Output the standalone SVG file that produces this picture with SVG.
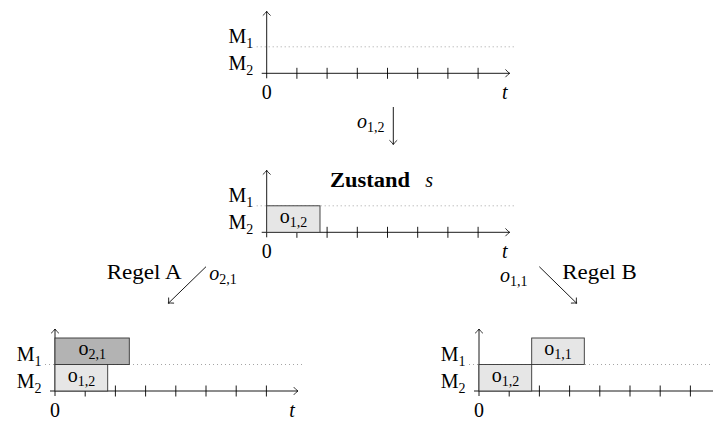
<svg xmlns="http://www.w3.org/2000/svg" width="713" height="421" viewBox="0 0 713 421">
<style>
text{font-family:"Liberation Serif","Times New Roman",serif;fill:#000}
.lbl{font-size:20px}
.sub{font-size:14px}
.bx{font-size:20px}
.bsub{font-size:14px}
.it{font-style:italic}
.bold{font-weight:bold}
.ax{stroke:#000;stroke-width:0.9;fill:none}
.tick{stroke:#000;stroke-width:0.9;fill:none}
.dot{stroke:#9a9a9a;stroke-width:0.9;stroke-dasharray:1 3}
.box{stroke:#333;stroke-width:0.9}
.light{fill:#e6e6e6}
.dark{fill:#b3b3b3}
.conn{stroke:#000;stroke-width:0.9;fill:none}
</style>
<defs>
<marker id="arr" markerUnits="userSpaceOnUse" viewBox="-6 -5 7 10" refX="0" refY="0" markerWidth="7" markerHeight="10" orient="auto" overflow="visible">
<path d="M-4,-3.6 Q-1.6,-0.8 0,0 Q-1.6,0.8 -4,3.6" fill="none" stroke="#000" stroke-width="0.8" stroke-linecap="round"/>
</marker>
<g id="axes">
<line class="dot" x1="-10" y1="-26.5" x2="248" y2="-26.5"/>
<path class="tick" d="M30.2,-5.5v11M60.4,-5.5v11M90.6,-5.5v11M120.8,-5.5v11M151,-5.5v11M181.2,-5.5v11M211.4,-5.5v11"/>
<line class="ax" x1="-5" y1="0" x2="243" y2="0" marker-end="url(#arr)"/>
<line class="ax" x1="0" y1="5" x2="0" y2="-62" marker-end="url(#arr)"/>
<text class="lbl" x="-13.5" y="-30" text-anchor="end">M<tspan class="sub" dy="4.5">1</tspan></text>
<text class="lbl" x="-13.5" y="-3" text-anchor="end">M<tspan class="sub" dy="4.5">2</tspan></text>
<text class="lbl" x="0" y="26" text-anchor="middle">0</text>
</g>
</defs>

<g id="chart-start" transform="translate(266.7,73.3)">
<use href="#axes"/>
<text class="lbl it" x="238" y="26" text-anchor="middle">t</text>
</g>

<g id="chart-zustand" transform="translate(266.7,232.3)">
<use href="#axes"/>
<rect class="box light" x="0" y="-26.5" width="53.3" height="26.5"/>
<text class="bx" x="26.7" y="-9.5" text-anchor="middle">o<tspan class="bsub" dy="4">1,2</tspan></text>
<text class="lbl it" x="238" y="26" text-anchor="middle">t</text>
<text class="lbl bold" x="63.3" y="-45.6" textLength="80" lengthAdjust="spacingAndGlyphs">Zustand</text>
<text class="lbl it" x="158.5" y="-45.6">s</text>
</g>

<g id="chart-regelA" transform="translate(55,391)">
<use href="#axes"/>
<rect class="box dark" x="0" y="-53" width="74.3" height="26.5"/>
<rect class="box light" x="0" y="-26.5" width="52.7" height="26.5"/>
<text class="bx" x="37.2" y="-36" text-anchor="middle">o<tspan class="bsub" dy="4">2,1</tspan></text>
<text class="bx" x="26.4" y="-9.5" text-anchor="middle">o<tspan class="bsub" dy="4">1,2</tspan></text>
<text class="lbl it" x="237" y="26" text-anchor="middle">t</text>
</g>

<g id="chart-regelB" transform="translate(479,391)">
<use href="#axes"/>
<rect class="box light" x="52.7" y="-53" width="52.6" height="26.5"/>
<rect class="box light" x="0" y="-26.5" width="52.7" height="26.5"/>
<text class="bx" x="79" y="-36" text-anchor="middle">o<tspan class="bsub" dy="4">1,1</tspan></text>
<text class="bx" x="26.4" y="-9.5" text-anchor="middle">o<tspan class="bsub" dy="4">1,2</tspan></text>
</g>

<g id="connectors">
<line class="conn" x1="393.3" y1="107" x2="393.3" y2="144.5" marker-end="url(#arr)"/>
<text class="bx it" x="357" y="128">o<tspan class="bsub" font-style="normal" dy="4">1,2</tspan></text>
<line class="conn" x1="206" y1="266.7" x2="168.3" y2="303.3" marker-end="url(#arr)"/>
<text class="lbl" x="106.7" y="279" textLength="75" lengthAdjust="spacingAndGlyphs">Regel A</text>
<text class="bx it" x="209.3" y="279.5">o<tspan class="bsub" font-style="normal" dy="4">2,1</tspan></text>
<line class="conn" x1="539.3" y1="266.7" x2="576.7" y2="303.3" marker-end="url(#arr)"/>
<text class="lbl" x="562.3" y="279" textLength="74.4" lengthAdjust="spacingAndGlyphs">Regel B</text>
<text class="bx it" x="500" y="281.5">o<tspan class="bsub" font-style="normal" dy="4">1,1</tspan></text>
</g>
</svg>
